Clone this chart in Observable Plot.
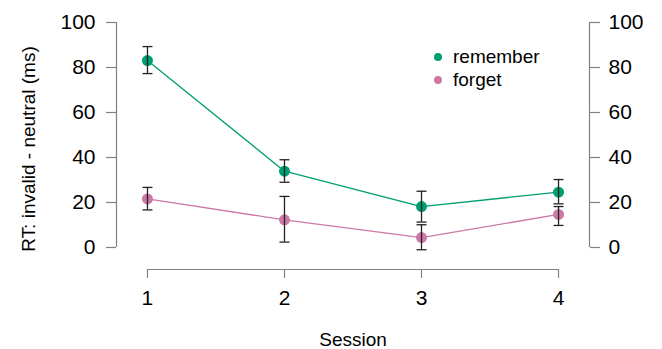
<!DOCTYPE html>
<html><head><meta charset="utf-8">
<script src="https://cdn.jsdelivr.net/npm/d3@7"></script>
<script src="https://cdn.jsdelivr.net/npm/@observablehq/plot@0.6"></script>
<style>
body{margin:0;background:#fff;}
#wrap{position:relative;width:662px;height:349px;font-family:"Liberation Sans",Arial,Helvetica,sans-serif;}
#legend{position:absolute;left:0;top:0;font-size:19px;color:#000;}
.row{position:absolute;display:flex;align-items:center;height:22px;}
.dot{width:8px;height:8px;border-radius:50%;margin-right:11px;}
</style></head><body><div id="wrap"><div id="legend"></div></div>
<script>
const sessions = [1, 2, 3, 4];
const conditions = ["remember", "forget"];
const colors = ["#009E73", "#CC79A7"];
const rememberMean = [83.1, 33.9, 18.2, 24.6];
const rememberLow  = [77.3, 29.0, 11.3, 19.4];
const rememberHigh = [89.3, 39.0, 25.0, 30.2];
const forgetMean = [21.6, 12.3, 4.4, 14.7];
const forgetLow  = [16.7, 2.4, -1.0, 9.8];
const forgetHigh = [26.7, 22.7, 10.1, 18.2];
const yTicks = [0, 20, 40, 60, 80, 100];
const xTicks = [1, 2, 3, 4];

const rows = [];
sessions.forEach((s, i) => {
  rows.push({session: s, condition: "remember", mean: rememberMean[i], low: rememberLow[i], high: rememberHigh[i]});
  rows.push({session: s, condition: "forget", mean: forgetMean[i], low: forgetLow[i], high: forgetHigh[i]});
});

const xMin = 0.774, xMax = 4.226, yMin = -9.78;
const cap = {draw(ctx, size){ const r = Math.sqrt(size / Math.PI); ctx.moveTo(-r, 0); ctx.lineTo(r, 0); }};
const font = '"Liberation Sans",Arial,Helvetica,sans-serif';
const axisCol = "#808080";

const plot = Plot.plot({
  width: 662, height: 349,
  marginLeft: 116, marginRight: 73, marginTop: 22, marginBottom: 80,
  x: {domain: [xMin, xMax]},
  y: {domain: [yMin, 100]},
  color: {domain: conditions, range: colors},
  style: {fontFamily: font, fontSize: "21px", color: "#000", background: "#fff", overflow: "visible"},
  marks: [
    Plot.ruleX([xMin], {y1: 0, y2: 100, stroke: axisCol, strokeWidth: 1.2}),
    Plot.ruleX([xMax], {y1: 0, y2: 100, stroke: axisCol, strokeWidth: 1.2}),
    Plot.ruleY([yMin], {x1: xTicks[0], x2: xTicks[xTicks.length - 1], stroke: axisCol, strokeWidth: 1.2}),
    Plot.axisY({anchor: "left", ticks: yTicks, tickSize: 10, tickPadding: 11, stroke: axisCol, strokeWidth: 1.2, fill: "#000", label: null}),
    Plot.axisY({anchor: "right", ticks: yTicks, tickSize: 10, tickPadding: 9, stroke: axisCol, strokeWidth: 1.2, fill: "#000", label: null}),
    Plot.axisX({anchor: "bottom", ticks: xTicks, tickSize: 9, tickPadding: 12, stroke: axisCol, strokeWidth: 1.2, fill: "#000", label: null, tickFormat: d => String(d)}),
    Plot.line(rows, {x: "session", y: "mean", z: "condition", stroke: "condition", strokeWidth: 1.3}),
    Plot.dot(rows, {x: "session", y: "mean", fill: "condition", r: 5.5, stroke: "none"}),
    Plot.ruleX(rows, {x: "session", y1: "low", y2: "high", stroke: "#222", strokeWidth: 1.3}),
    Plot.dot(rows, {x: "session", y: "low", symbol: cap, r: 5, stroke: "#222", strokeWidth: 1.3, fill: "none"}),
    Plot.dot(rows, {x: "session", y: "high", symbol: cap, r: 5, stroke: "#222", strokeWidth: 1.3, fill: "none"}),
    Plot.text(["RT: invalid - neutral (ms)"], {frameAnchor: "left", textAnchor: "middle", lineAnchor: "middle", rotate: -90, dx: -88, dy: 3, fontSize: 19, fill: "#000"}),
    Plot.text(["Session"], {frameAnchor: "bottom", lineAnchor: "middle", dy: 70, fontSize: 19, fill: "#000"})
  ]
});
document.getElementById("wrap").prepend(plot);

const legend = document.getElementById("legend");
conditions.forEach((c, i) => {
  const row = document.createElement("div");
  row.className = "row";
  row.style.left = "434px";
  row.style.top = (46 + i * 23) + "px";
  const d = document.createElement("div");
  d.className = "dot";
  d.style.background = colors[i];
  row.appendChild(d);
  const t = document.createElement("span");
  t.textContent = c;
  row.appendChild(t);
  legend.appendChild(row);
});
</script>
</body></html>
